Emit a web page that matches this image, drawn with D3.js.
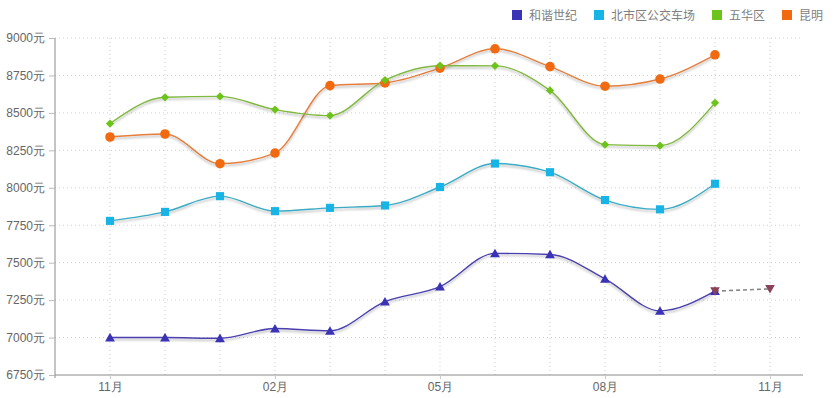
<!DOCTYPE html>
<html>
<head>
<meta charset="utf-8">
<script src="https://cdn.jsdelivr.net/npm/d3@7"></script>
<style>
  html, body { margin: 0; padding: 0; background: #fff; }
  svg { display: block; font-family: "Noto Sans CJK SC", "Noto Sans", sans-serif; }
</style>
</head>
<body>
<svg id="chart" width="836" height="398"></svg>
<script>
// ---- data ----
const months = ["11月","12月","01月","02月","03月","04月","05月","06月","07月","08月","09月","10月","11月"];
const tickIdx = [0, 3, 6, 9, 12];
const yTicks = [6750, 7000, 7250, 7500, 7750, 8000, 8250, 8500, 8750, 9000];
const seriesNames = ["和谐世纪", "北市区公交车场", "五华区", "昆明"];
const hexie   = [7000, 7000, 6995, 7060, 7045, 7240, 7340, 7562, 7555, 7392, 7178, 7310];
const beishi  = [7779, 7839, 7944, 7844, 7866, 7882, 8005, 8162, 8104, 7918, 7856, 8027];
const wuhua   = [8429, 8604, 8610, 8522, 8482, 8719, 8815, 8814, 8650, 8288, 8281, 8567];
const kunming = [8339, 8359, 8161, 8232, 8682, 8700, 8799, 8928, 8809, 8678, 8726, 8888];
const forecastIdx = [11, 12];
const forecast = [7310, 7325];

const colors = ["#3a33b6", "#18b4e6", "#6cc41a", "#f26a10"];
const lineColors = ["#4a40ae", "#3aaac4", "#80b840", "#e57d3c"];
const symbols = [d3.symbolTriangle, d3.symbolSquare, d3.symbolSquare, d3.symbolCircle];
const symRot = [0, 0, 45, 0];
const symSizes = [42, 66, 34, 72];
const allSeries = [hexie, beishi, wuhua, kunming];

// ---- layout ----
const svg = d3.select("#chart");
const pLeft = 55, pRight = 803, pTop = 38, pBottom = 375;

const x = d3.scaleLinear().domain([-1, 12.6]).range([pLeft, pRight]);
const y = d3.scaleLinear().domain([6750, 9000]).range([pBottom, pTop]);

const defs = svg.append("defs");
const f = defs.append("filter").attr("id", "shadow")
  .attr("x", "-5%").attr("y", "-20%").attr("width", "110%").attr("height", "160%");
f.append("feDropShadow").attr("dx", 0).attr("dy", 2).attr("stdDeviation", 1.2)
  .attr("flood-color", "#000").attr("flood-opacity", 0.28);

// grid
const grid = svg.append("g");
grid.selectAll("line.h").data(yTicks.slice(1)).join("line")
  .attr("x1", pLeft).attr("x2", pRight)
  .attr("y1", d => y(d)).attr("y2", d => y(d))
  .attr("stroke", "#cfcfcf").attr("stroke-dasharray", "1,3");
grid.selectAll("line.v").data(months.map((m, i) => i)).join("line")
  .attr("x1", d => x(d)).attr("x2", d => x(d))
  .attr("y1", pTop).attr("y2", pBottom)
  .attr("stroke", "#cfcfcf").attr("stroke-dasharray", "1,3");

// y axis
const yAxis = svg.append("g").attr("transform", `translate(${pLeft},0)`)
  .call(d3.axisLeft(y).tickValues(yTicks).tickFormat(d => d + "元").tickSize(6).tickPadding(4));
yAxis.select(".domain").attr("stroke", "#8a8a8a").attr("d", `M0,${pTop}V${pBottom + 3}`);
yAxis.selectAll(".tick line").attr("stroke", "#bbb");
yAxis.selectAll(".tick text").attr("fill", "#666").style("font-size", "12px");

// x axis
const xAxis = svg.append("g").attr("transform", `translate(0,${pBottom})`)
  .call(d3.axisBottom(x).tickValues(tickIdx).tickFormat(i => months[i]).tickSize(4).tickPadding(3));
xAxis.select(".domain").attr("stroke", "#8a8a8a").attr("d", `M${pLeft},0H${pRight}`);
xAxis.selectAll(".tick line").attr("stroke", "#ccc");
xAxis.selectAll(".tick text").attr("fill", "#666").style("font-size", "12px");

// lines
const line = d3.line().x((d, i) => x(i)).y(d => y(d)).curve(d3.curveMonotoneX);
[3, 2, 1, 0].forEach(s => {
  svg.append("path").datum(allSeries[s])
    .attr("d", line).attr("fill", "none")
    .attr("stroke", lineColors[s]).attr("stroke-width", 1.4)
    .attr("filter", "url(#shadow)");
});

// forecast dashed
const fline = d3.line().x((d, i) => x(forecastIdx[i])).y(d => y(d));
svg.append("path").datum(forecast).attr("d", fline).attr("fill", "none")
  .attr("stroke", "#888").attr("stroke-width", 1.6).attr("stroke-dasharray", "4,3");

// markers
[3, 2, 1, 0].forEach(s => {
  const sym = d3.symbol().type(symbols[s]).size(symSizes[s]);
  svg.append("g").selectAll("path").data(allSeries[s]).join("path")
    .attr("d", sym)
    .attr("transform", (d, i) => `translate(${x(i)},${y(d) + (s === 0 ? 1 : 0)}) rotate(${symRot[s]})`)
    .attr("fill", colors[s]);
});
// forecast markers (inverted triangles)
svg.append("g").selectAll("path").data(forecast).join("path")
  .attr("d", d3.symbol().type(d3.symbolTriangle).size(40))
  .attr("transform", (d, i) => `translate(${x(forecastIdx[i])},${y(d) - 1}) rotate(180)`)
  .attr("fill", "#8a4258");

// legend
const legendX = [512, 594, 712, 782];
const lg = svg.append("g");
seriesNames.forEach((n, i) => {
  lg.append("rect").attr("x", legendX[i]).attr("y", 10).attr("width", 10).attr("height", 10)
    .attr("fill", colors[i]);
  lg.append("text").attr("x", legendX[i] + 17).attr("y", 19.5).text(n)
    .attr("fill", "#808080").style("font-size", "12px");
});
</script>
</body>
</html>
